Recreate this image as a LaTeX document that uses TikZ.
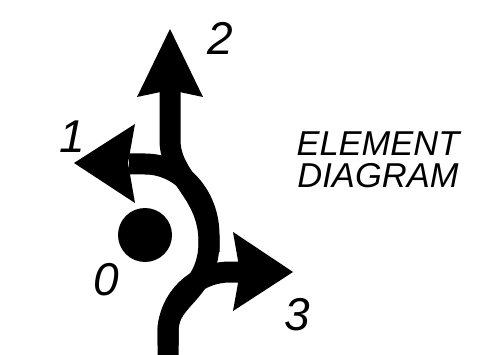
\documentclass[tikz,border=0pt]{standalone}
\usepackage{fontspec}
\setmainfont{Liberation Sans}
\begin{document}
\begin{tikzpicture}[x=1pt,y=-1pt,
  road/.style={line width=21pt,line cap=butt,line join=round},
  headshape/.style={fill=black},
  digit/.style={font=\fontsize{46}{46}\selectfont\itshape,anchor=base,inner sep=0pt},
  caption/.style={font=\fontsize{34.5}{32}\selectfont\itshape,align=center,inner sep=0pt}]
\useasboundingbox (0,0) rectangle (484,355);
% centre dot
\fill (145,235) circle (27);
% main S-shaped road to arrow 2
\coordinate (start) at (168,360);
\coordinate (top) at (170,90);
\draw[road] (start) -- (168,330) .. controls (168,298) and (209,292) .. (209,242)
  .. controls (209,192) and (170,178) .. (170,140) -- (top);
% branch to arrow 1 around the dot
\draw[road] (209,252) -- (209,235) .. controls (209,196) and (181,164) .. (145,164) -- (129,164);
% branch to arrow 3
\draw[road] (168,345) -- (168,333) .. controls (168,299) and (196,272) .. (230,272) -- (241,272);
% arrowheads
\fill[headshape] (170,29) -- (203,97) -- (170,90) -- (137,97) -- cycle;
\fill[headshape] (74,163) -- (135,124) -- (128,163) -- (135,203) -- cycle;
\fill[headshape] (293,272) -- (233,232) -- (240,272) -- (233,311) -- cycle;
% labels
\node[digit] (l2) at (220,55) {2};
\node[digit] (l1) at (72,153) {1};
\node[digit] (l0) at (106,295) {0};
\node[digit] (l3) at (297,330) {3};
\node[caption] (cap) at (378,160) {ELEMENT\\DIAGRAM};
\end{tikzpicture}
\end{document}
